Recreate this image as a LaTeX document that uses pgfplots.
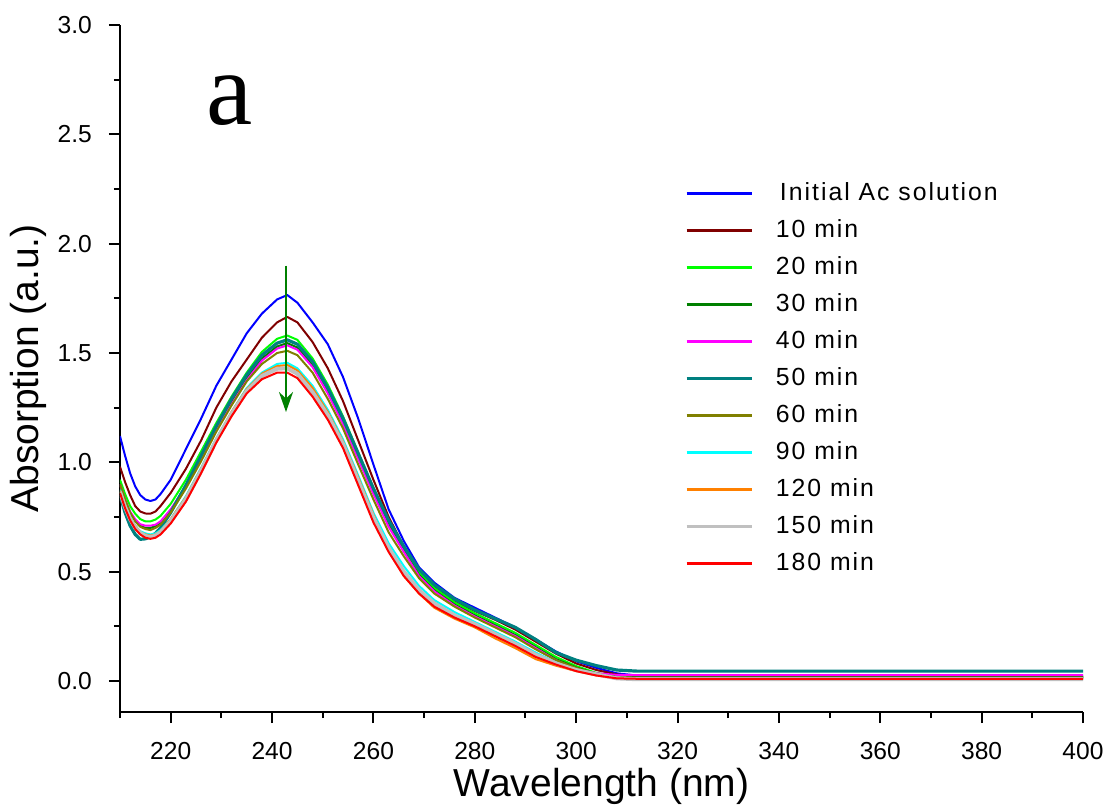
\documentclass[border=0pt]{standalone}
\usepackage{fontspec}
\setmainfont{Liberation Sans}
\newfontfamily\serifa{Liberation Serif}
\newfontfamily\legfont[LetterSpace=8]{Liberation Sans}
\usepackage{pgfplots}
\pgfplotsset{compat=1.18}
\usepackage{pgfplotstable}
\usetikzlibrary{arrows.meta}

\definecolor{cInit}{RGB}{0,0,255}
\definecolor{cTen}{RGB}{128,0,0}
\definecolor{cTwenty}{RGB}{0,255,0}
\definecolor{cThirty}{RGB}{0,128,0}
\definecolor{cForty}{RGB}{255,0,255}
\definecolor{cFifty}{RGB}{0,128,128}
\definecolor{cSixty}{RGB}{128,128,0}
\definecolor{cNinety}{RGB}{0,255,255}
\definecolor{cOneTwenty}{RGB}{255,128,0}
\definecolor{cOneFifty}{RGB}{192,192,192}
\definecolor{cOneEighty}{RGB}{255,0,0}
\definecolor{arrowgreen}{RGB}{0,128,0}

% absorption spectra, one column per sampling time
\pgfplotstableread{
wl   c0    c10   c20   c30   c40   c50   c60   c90   c120  c150  c180
210  1.12  0.98  0.92  0.90  0.90  0.85  0.90  0.875 0.87  0.865 0.86
211  1.03  0.91  0.855 0.83  0.83  0.77  0.83  0.805 0.80  0.795 0.79
212  0.95  0.85  0.80  0.77  0.775 0.71  0.77  0.75  0.745 0.74  0.735
213  0.89  0.80  0.765 0.735 0.74  0.67  0.73  0.71  0.71  0.70  0.695
214  0.85  0.775 0.74  0.71  0.717 0.648 0.705 0.685 0.68  0.677 0.67
215  0.83  0.766 0.73  0.70  0.71  0.65  0.695 0.675 0.67  0.663 0.655
216  0.823 0.765 0.73  0.70  0.71  0.66  0.69  0.67  0.665 0.658 0.65
217  0.83  0.775 0.738 0.708 0.715 0.675 0.70  0.675 0.67  0.664 0.655
218  0.855 0.80  0.755 0.725 0.73  0.70  0.715 0.69  0.685 0.68  0.67
220  0.92  0.86  0.81  0.78  0.785 0.77  0.77  0.74  0.74  0.73  0.72
223  1.06  0.97  0.92  0.895 0.89  0.895 0.88  0.845 0.84  0.83  0.82
226  1.20  1.10  1.05  1.025 1.02  1.03  1.005 0.975 0.97  0.96  0.95
229  1.35  1.25  1.18  1.155 1.15  1.165 1.14  1.11  1.105 1.10  1.09
232  1.47  1.37  1.30  1.275 1.265 1.29  1.26  1.23  1.23  1.22  1.21
235  1.59  1.47  1.41  1.385 1.375 1.40  1.37  1.34  1.335 1.325 1.315
238  1.68  1.57  1.505 1.475 1.465 1.49  1.45  1.41  1.405 1.395 1.38
241  1.745 1.64  1.565 1.53  1.52  1.545 1.50  1.45  1.44  1.428 1.41
243  1.765 1.665 1.58  1.545 1.535 1.56  1.51  1.455 1.445 1.43  1.41
245  1.73  1.64  1.56  1.525 1.515 1.54  1.49  1.43  1.42  1.405 1.385
248  1.64  1.55  1.475 1.445 1.435 1.46  1.41  1.35  1.34  1.32  1.30
251  1.54  1.43  1.355 1.325 1.315 1.34  1.29  1.24  1.23  1.215 1.195
254  1.39  1.28  1.21  1.185 1.175 1.20  1.155 1.105 1.095 1.083 1.065
257  1.20  1.10  1.045 1.025 1.015 1.04  0.99  0.94  0.93  0.914 0.895
260  0.99  0.92  0.88  0.865 0.855 0.88  0.83  0.77  0.76  0.745 0.725
263  0.785 0.75  0.73  0.715 0.705 0.735 0.68  0.63  0.60  0.608 0.59
266  0.64  0.615 0.605 0.595 0.59  0.615 0.57  0.525 0.48  0.50  0.48
269  0.52  0.50  0.495 0.485 0.48  0.51  0.47  0.435 0.40  0.415 0.40
272  0.45  0.43  0.425 0.415 0.41  0.44  0.40  0.37  0.335 0.355 0.34
276  0.38  0.365 0.36  0.35  0.345 0.375 0.34  0.315 0.285 0.30  0.29
280  0.335 0.32  0.31  0.30  0.295 0.325 0.29  0.27  0.245 0.26  0.25
284  0.29  0.28  0.265 0.255 0.25  0.285 0.245 0.225 0.195 0.215 0.205
288  0.245 0.235 0.22  0.21  0.205 0.245 0.20  0.18  0.15  0.17  0.16
292  0.19  0.18  0.165 0.155 0.15  0.19  0.145 0.13  0.10  0.12  0.11
296  0.135 0.125 0.11  0.10  0.095 0.13  0.095 0.085 0.07  0.08  0.075
300  0.09  0.08  0.068 0.062 0.055 0.095 0.06  0.05  0.045 0.05  0.045
304  0.06  0.05  0.037 0.033 0.035 0.07  0.03  0.028 0.025 0.03  0.025
308  0.035 0.03  0.02  0.02  0.028 0.05  0.018 0.015 0.015 0.012 0.012
312  0.025 0.022 0.016 0.018 0.027 0.045 0.015 0.012 0.012 0.008 0.01
400  0.02  0.02  0.016 0.018 0.027 0.045 0.015 0.012 0.012 0.008 0.01
}\spectra

\begin{document}
\begin{tikzpicture}
\useasboundingbox (-60pt,-46.5pt) rectangle (495.5pt,356pt);
\begin{axis}[
    scale only axis,
    width=481.5pt, height=343.5pt,
    xmin=210, xmax=400,
    ymin=-0.142, ymax=3,
    axis lines*=left,
    axis line style={line width=1pt},
    tick align=outside,
    major tick length=5.5pt,
    minor tick length=3pt,
    tick style={black, line width=1pt},
    xtick={220,240,...,400},
    minor xtick={210,230,...,390},
    ytick={0,0.5,...,3},
    minor ytick={0.25,0.75,...,2.75},
    /pgf/number format/assume math mode=true,
    ticklabel style={font=\fontsize{12.3}{14}\selectfont},
    yticklabel style={/pgf/number format/fixed, /pgf/number format/fixed zerofill,
        /pgf/number format/precision=1, xshift=-5pt},
    xticklabel style={yshift=-6pt},
    xlabel={Wavelength (nm)},
    ylabel={Absorption (a.u.)},
    label style={font=\fontsize{19.5}{22}\selectfont},
    xlabel style={at={(axis description cs:0.5,-0.109)}, anchor=center},
    ylabel style={at={(axis description cs:-0.0955,0.5)}, anchor=center},
    legend cell align=left,
    legend image code/.code={\draw[#1, line width=1.2pt] (0pt,0pt) -- (32.5pt,0pt);},
    legend style={draw=none, fill=none, at={(axis cs:320.3,2.302)}, anchor=north west,
        font=\legfont\fontsize{12.4}{14}\selectfont, row sep=7pt,
        nodes={inner sep=0pt, text height=9pt, text depth=2.5pt},
        /tikz/every odd column/.append style={column sep=11.5pt}},
    every axis plot/.append style={line join=round},
]
\addplot[cInit, line width=1pt] table[x=wl, y=c0] {\spectra};
\addlegendentry{\,Initial Ac solution}
\addplot[cTen, line width=1pt] table[x=wl, y=c10] {\spectra};
\addlegendentry{10 min}
\addplot[cTwenty, line width=1pt] table[x=wl, y=c20] {\spectra};
\addlegendentry{20 min}
\addplot[cThirty, line width=1pt] table[x=wl, y=c30] {\spectra};
\addlegendentry{30 min}
\addplot[cForty, line width=1pt] table[x=wl, y=c40] {\spectra};
\addlegendentry{40 min}
\addplot[cFifty, line width=1.6pt] table[x=wl, y=c50] {\spectra};
\addlegendentry{50 min}
\addplot[cSixty, line width=1pt] table[x=wl, y=c60] {\spectra};
\addlegendentry{60 min}
\addplot[cNinety, line width=1pt] table[x=wl, y=c90] {\spectra};
\addlegendentry{90 min}
\addplot[cOneTwenty, line width=1pt] table[x=wl, y=c120] {\spectra};
\addlegendentry{120 min}
\addplot[cOneFifty, line width=2pt] table[x=wl, y=c150] {\spectra};
\addlegendentry{150 min}
\addplot[cOneEighty, line width=1pt] table[x=wl, y=c180] {\spectra};
\addlegendentry{180 min}

\draw[arrowgreen, line width=1.4pt, -{Stealth[length=10pt, width=7pt]}]
    (axis cs:242.75,1.90) -- (axis cs:242.75,1.23);
\node[font=\serifa\fontsize{52}{56}\selectfont] at (axis cs:231.65,2.652) {a};
\end{axis}
\end{tikzpicture}
\end{document}
